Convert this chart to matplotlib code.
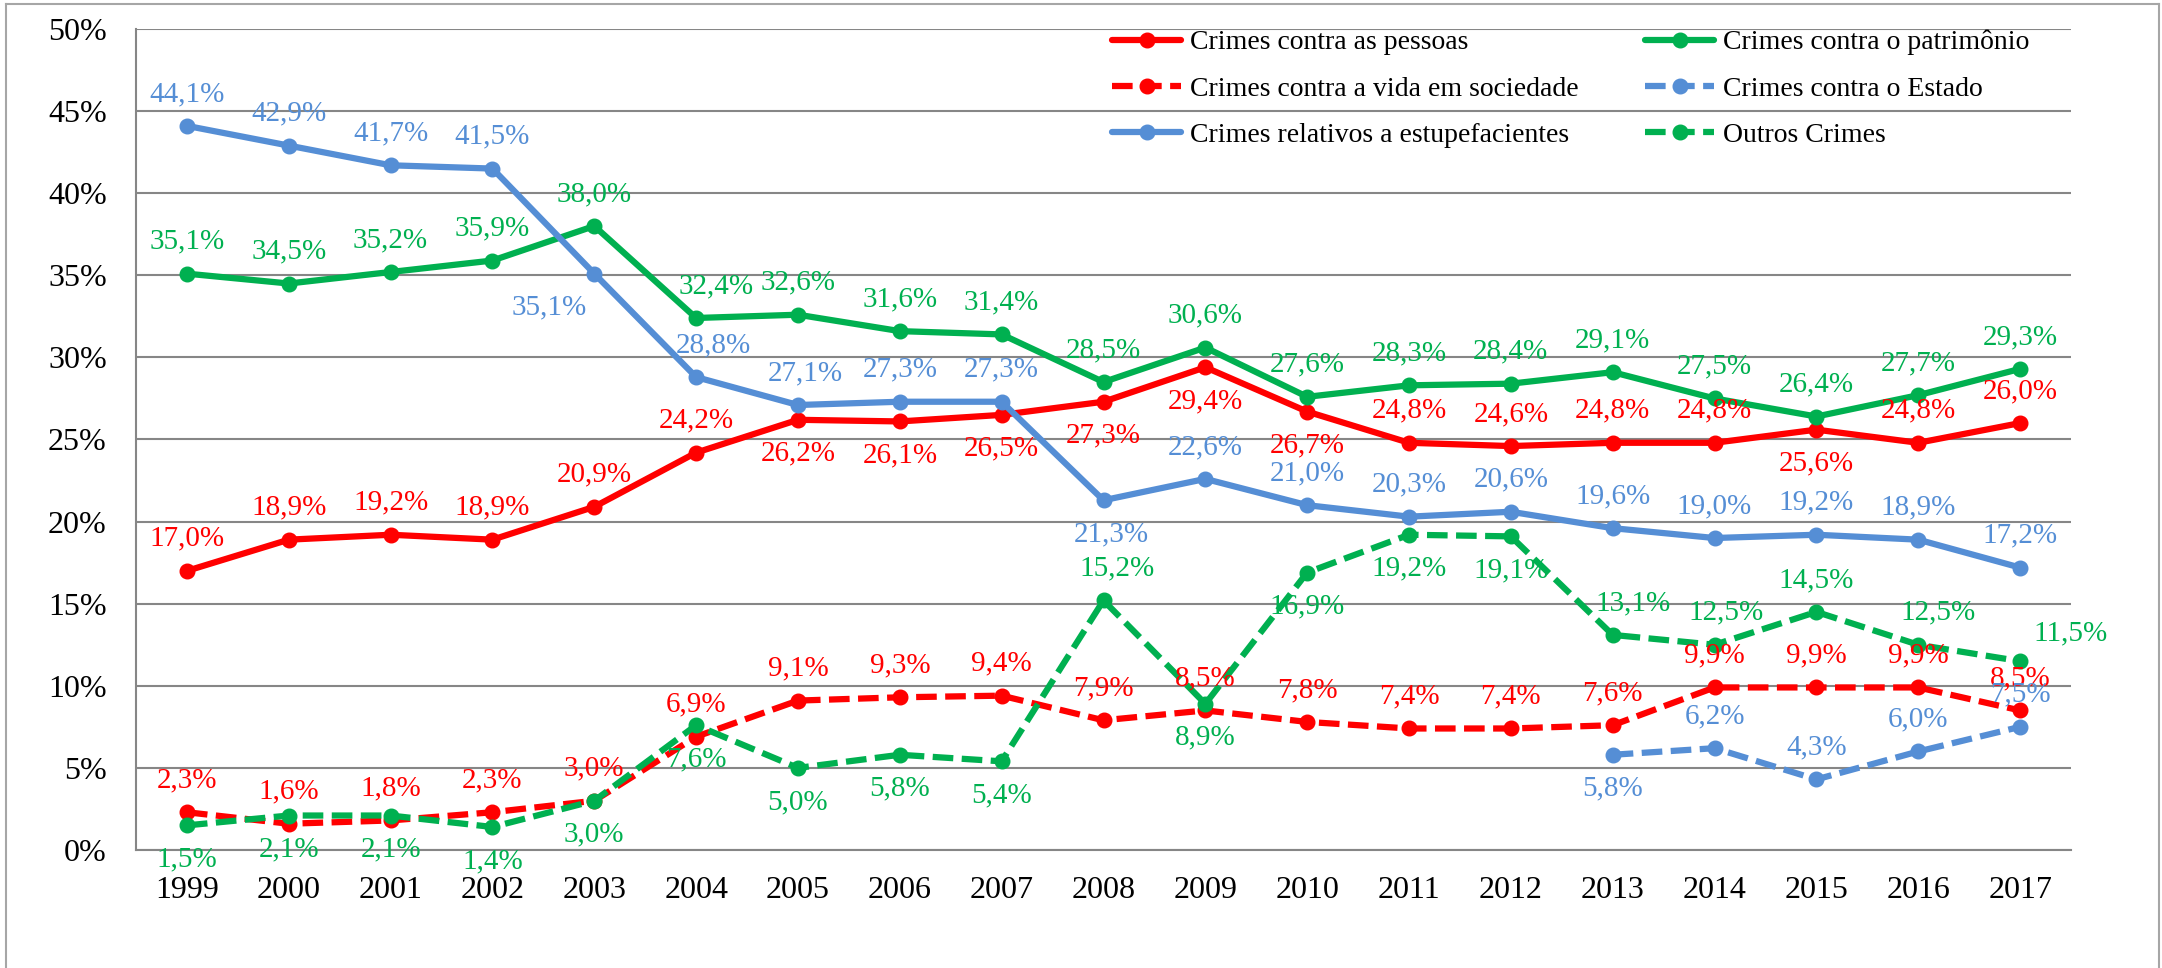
import matplotlib.pyplot as plt
from matplotlib.lines import Line2D
import numpy as np

plt.rcParams['font.family'] = ['Liberation Serif', 'DejaVu Serif']

anos = ['1999', '2000', '2001', '2002', '2003', '2004', '2005', '2006', '2007', '2008',
        '2009', '2010', '2011', '2012', '2013', '2014', '2015', '2016', '2017']

pessoas = [17.0, 18.9, 19.2, 18.9, 20.9, 24.2, 26.2, 26.1, 26.5, 27.3,
           29.4, 26.7, 24.8, 24.6, 24.8, 24.8, 25.6, 24.8, 26.0]
patrimonio = [35.1, 34.5, 35.2, 35.9, 38.0, 32.4, 32.6, 31.6, 31.4, 28.5,
              30.6, 27.6, 28.3, 28.4, 29.1, 27.5, 26.4, 27.7, 29.3]
vida_sociedade = [2.3, 1.6, 1.8, 2.3, 3.0, 6.9, 9.1, 9.3, 9.4, 7.9,
                  8.5, 7.8, 7.4, 7.4, 7.6, 9.9, 9.9, 9.9, 8.5]
estado = [None] * 14 + [5.8, 6.2, 4.3, 6.0, 7.5]
estupefacientes = [44.1, 42.9, 41.7, 41.5, 35.1, 28.8, 27.1, 27.3, 27.3, 21.3,
                   22.6, 21.0, 20.3, 20.6, 19.6, 19.0, 19.2, 18.9, 17.2]
outros = [1.5, 2.1, 2.1, 1.4, 3.0, 7.6, 5.0, 5.8, 5.4, 15.2,
          8.9, 16.9, 19.2, 19.1, 13.1, 12.5, 14.5, 12.5, 11.5]

RED = '#FF0000'
GREEN = '#00B050'
BLUE = '#558ED5'

# label placement: a = above, b = below, r = up-right; extra x shifts in px
series = [
    ('Crimes contra as pessoas', pessoas, RED, '-', 'aaaaaabbbbbbaaaabaa', {}),
    ('Crimes contra o patrimônio', patrimonio, GREEN, '-', 'a' * 19, {5: 20}),
    ('Crimes contra a vida em sociedade', vida_sociedade, RED, '--', 'a' * 19, {}),
    ('Crimes contra o Estado', estado, BLUE, '--', '-' * 14 + 'baaaa', {}),
    ('Crimes relativos a estupefacientes', estupefacientes, BLUE, '-', 'aaaabaaaabaaaaaaaaa',
     {4: -45, 5: 17, 6: 7, 9: 8}),
    ('Outros Crimes', outros, GREEN, '--', 'bbbbbbbbbabbbbaaaar', {9: 14, 14: 20, 15: 12, 17: 20}),
]

fig = plt.figure(figsize=(21.62, 9.68), dpi=100)
ax = fig.add_axes([136 / 2162, 1 - 850 / 968, (2071 - 136) / 2162, (850 - 29) / 968])

x = np.arange(len(anos))
px = 0.72  # px -> pt at 100 dpi
handles = {}
for nome, vals, cor, ls, pos, dxs in series:
    y = np.array([np.nan if v is None else v for v in vals], dtype=float)
    ln, = ax.plot(x, y, color=cor, lw=4.5, ls=ls, marker='o', ms=10.5,
                  solid_capstyle='round', zorder=3)
    if ls == '--':
        ln.set_dashes((3.3, 1.35))
    handles[nome] = ln
    for i, v in enumerate(vals):
        if v is None:
            continue
        dx = dxs.get(i, 0)
        if pos[i] == 'a':
            dy = 32
        elif pos[i] == 'b':
            dy = -34
        else:
            dx, dy = 50, 28
        ax.annotate(f'{v:.1f}'.replace('.', ',') + '%', (i, v), xytext=(dx * px, dy * px),
                    textcoords='offset points', ha='center', va='center',
                    fontsize=21, color=cor, zorder=5)

ax.set_xlim(-0.5, len(anos) - 0.5)
ax.set_ylim(0, 50)
ax.set_yticks(range(0, 51, 5))
ax.set_yticklabels([f'{t}%' for t in range(0, 51, 5)])
ax.set_xticks(x)
ax.set_xticklabels(anos)
ax.tick_params(axis='both', length=0, labelsize=23)
ax.tick_params(axis='y', pad=21)
ax.tick_params(axis='x', pad=19)
ax.grid(axis='y', color='#868686', lw=1.5)
ax.set_axisbelow(True)
for s in ['top', 'right']:
    ax.spines[s].set_visible(False)
for s in ['left', 'bottom']:
    ax.spines[s].set_color('#868686')
    ax.spines[s].set_linewidth(1.5)

ordem = ['Crimes contra as pessoas', 'Crimes contra a vida em sociedade',
         'Crimes relativos a estupefacientes', 'Crimes contra o patrimônio',
         'Crimes contra o Estado', 'Outros Crimes']
ax.legend([handles[n] for n in ordem], ordem, ncol=2, frameon=False,
          loc='upper left', bbox_to_anchor=(1098 / 2162, 1 - 16 / 968),
          bbox_transform=fig.transFigure, fontsize=20, borderpad=0,
          handlelength=2.5, handletextpad=0.3, columnspacing=2.4, labelspacing=0.75)

# outer chart border
for xs, ys in [([6, 6], [0, 964]), ([6, 2159], [964, 964]), ([2159, 2159], [0, 964])]:
    fig.add_artist(Line2D(np.array(xs) / 2162, np.array(ys) / 968, color='#A6A6A6', lw=1.5))

plt.savefig('out.png', dpi=100)
